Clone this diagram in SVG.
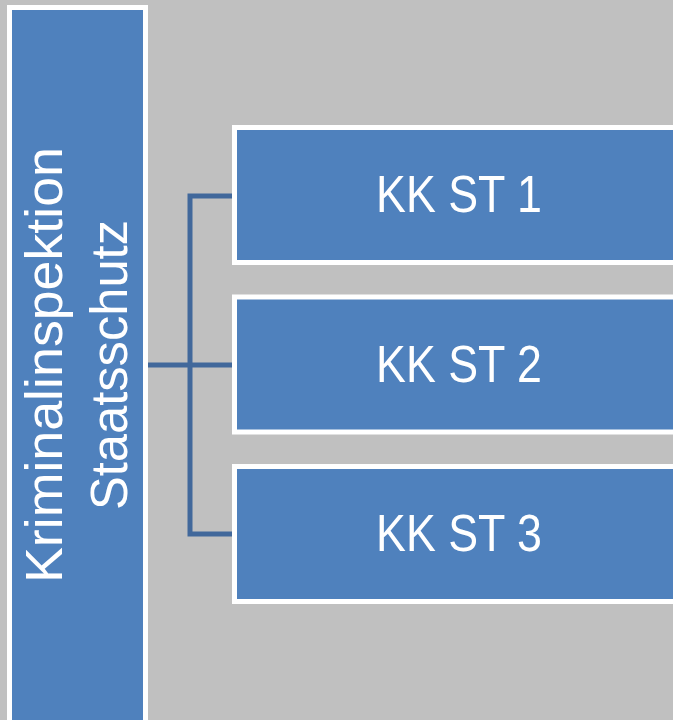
<svg xmlns="http://www.w3.org/2000/svg" width="673" height="720" viewBox="0 0 673 720">
<style>
.box{fill:#4F81BD;stroke:#FFFFFF;stroke-width:5}
.lbl{font-family:"Liberation Sans",Arial,sans-serif;font-size:52px;fill:#FFFFFF;text-anchor:middle}
.conn{fill:none;stroke:#41689B;stroke-width:5;stroke-linejoin:miter}
</style>
<rect width="673" height="720" fill="#C0C0C0"/>
<g id="connectors">
<path class="conn" d="M145 365 H234"/>
<path class="conn" d="M234 196 H190 V534 H234"/>
</g>
<g id="node-ki">
<rect class="box" x="9.5" y="7.5" width="136" height="730"/>
<text class="lbl" transform="translate(62,365) rotate(-90)" x="0" y="0" textLength="436" lengthAdjust="spacingAndGlyphs">Kriminalinspektion</text>
<text class="lbl" transform="translate(127,365) rotate(-90)" x="0" y="0" textLength="290" lengthAdjust="spacingAndGlyphs">Staatsschutz</text>
</g>
<g id="node-st1">
<rect class="box" x="234.5" y="127.5" width="500" height="135"/>
<text class="lbl" x="459" y="212" textLength="166" lengthAdjust="spacingAndGlyphs">KK ST 1</text>
</g>
<g id="node-st2">
<rect class="box" x="234.5" y="297" width="500" height="135"/>
<text class="lbl" x="459" y="381.5" textLength="166" lengthAdjust="spacingAndGlyphs">KK ST 2</text>
</g>
<g id="node-st3">
<rect class="box" x="234.5" y="466.5" width="500" height="135"/>
<text class="lbl" x="459" y="551" textLength="166" lengthAdjust="spacingAndGlyphs">KK ST 3</text>
</g>
</svg>
